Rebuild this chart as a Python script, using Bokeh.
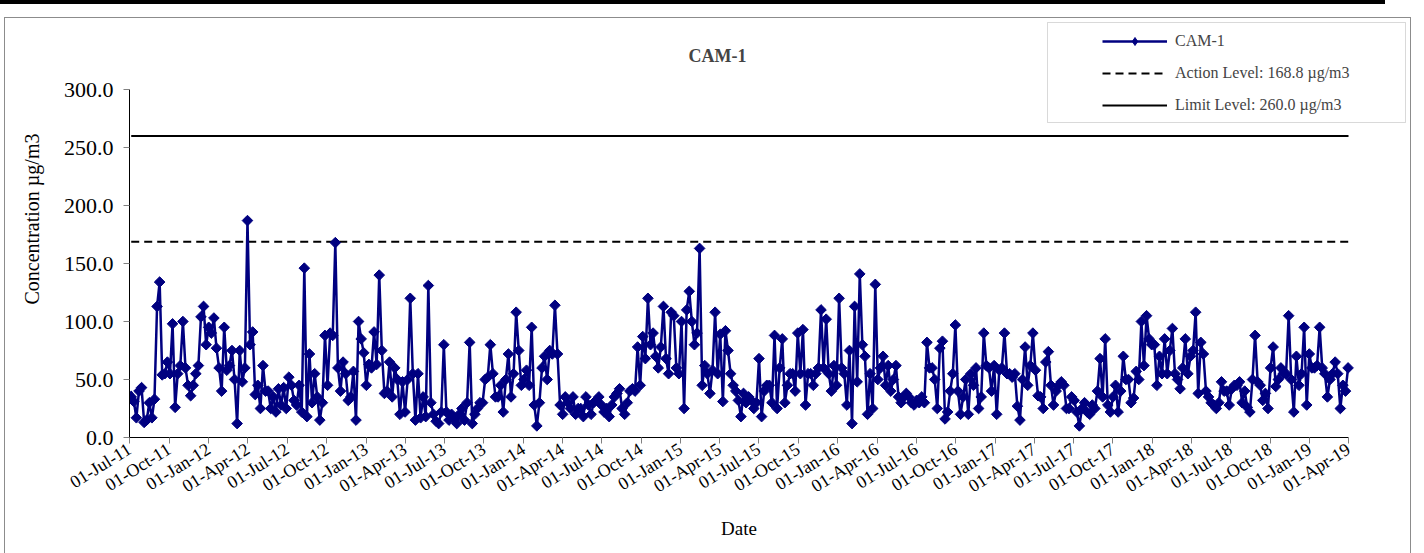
import math
import pandas as pd
from bokeh.plotting import figure
from bokeh.models import (ColumnDataSource, Range1d, FixedTicker, NumeralTickFormatter,
                          DatetimeTickFormatter, Legend, LegendItem, BoxAnnotation, Label,
                          CDSView, IndexFilter)
from bokeh.embed import file_html
from bokeh.resources import INLINE

# ---------------- data ----------------
series_name = "CAM-1"
start_date = "2011-07-05"
step_days = 6
cam1_values = [
    35, 31, 17, 40, 43, 13, 15, 30, 17, 33,
    113, 134, 54, 55, 65, 55, 98, 26, 55, 62,
    100, 60, 45, 36, 45, 55, 62, 104, 113, 80,
    95, 90, 103, 77, 60, 40, 95, 58, 62, 75,
    50, 12, 75, 48, 60, 187, 80, 91, 37, 45,
    25, 62, 40,
    40, 25, 35, 22, 42, 28, 43, 25, 52, 45,
    32, 28, 45, 22, 146, 18, 72, 30, 55, 35,
    15, 30, 88, 45, 90, 88, 168, 60, 40, 65,
    55, 32, 35, 57, 15, 100, 85, 73, 45, 63,
    60, 91, 63, 140, 75, 38, 40, 65, 35, 60,
    50, 20,
    48, 22, 50, 120, 55, 15, 55, 17, 35, 18,
    131, 30, 20, 14, 12, 22, 80, 22, 15, 20,
    16, 12, 20, 25, 15, 30, 82, 12, 20, 25,
    30, 30, 50, 52, 80, 55, 35, 35, 45, 22,
    50, 72, 35, 55, 108, 75, 45, 50, 58, 45,
    95, 28, 10, 30, 60, 70,
    50, 75, 72, 114, 72, 28, 20, 35, 30, 25,
    35, 20, 25, 25, 18, 35, 28, 20, 30, 32,
    35, 28, 22, 25, 18, 28, 35, 38, 42, 25,
    20, 30, 40, 42, 40, 78, 45, 87, 68, 120,
    80, 90, 70, 60, 78, 113, 68, 55, 108, 105,
    60, 55, 100, 25, 110,
    126, 100, 80, 90, 163, 45, 62, 55, 38, 58,
    108, 55, 89, 31, 92, 75, 55, 45, 40, 32,
    18, 38, 30, 35, 32, 25, 30, 68, 18, 40,
    45, 45, 30, 88, 25, 60, 85, 30, 45, 55,
    55, 40, 90, 55, 93, 28, 55, 55, 45, 55,
    60, 110, 60,
    102, 55, 40, 62, 45, 120, 60, 55, 28, 75,
    12, 113, 48, 141, 80, 70, 20, 55, 25, 132,
    50, 60, 70, 45, 62, 40, 50, 62, 35, 30,
    35, 38, 35, 30, 28, 32, 30, 35, 30, 82,
    60, 60, 50, 25, 77, 83, 16, 22, 40, 55,
    97, 40, 20, 35, 50,
    20, 55, 45, 60, 25, 35, 90, 62, 60, 40,
    62, 20, 58, 60, 90, 55, 55, 52, 55, 27,
    15, 50, 78, 45, 62, 90, 58, 36, 35, 25,
    65, 74, 45, 28, 40, 45, 48, 45, 25, 25,
    35, 32, 22, 10, 25, 30, 22, 20, 28, 25,
    40, 68, 35, 85,
    28, 22, 35, 45, 22, 40, 70, 50, 50, 30,
    34, 57, 50, 100, 62, 105, 85, 80, 80, 45,
    70, 55, 85, 55, 75, 94, 55, 50, 42, 60,
    85, 55, 70, 75, 108, 38, 82, 72, 40, 35,
    30, 28, 25, 30, 48, 40, 40, 28, 42, 45,
    45, 48, 30,
    40, 26, 22, 50, 88, 48, 45, 32, 38, 25,
    60, 78, 44, 50, 60, 55, 55, 105, 50, 22,
    70, 45, 55, 95, 28, 72, 60, 60, 62, 95,
    60, 55, 35, 50, 55, 65, 55, 25, 45, 40,
    60,
]
action_level = 168.8
limit_level = 260.0
x_tick_labels = [
    "01-Jul-11", "01-Oct-11", "01-Jan-12", "01-Apr-12", "01-Jul-12", "01-Oct-12",
    "01-Jan-13", "01-Apr-13", "01-Jul-13", "01-Oct-13", "01-Jan-14", "01-Apr-14",
    "01-Jul-14", "01-Oct-14", "01-Jan-15", "01-Apr-15", "01-Jul-15", "01-Oct-15",
    "01-Jan-16", "01-Apr-16", "01-Jul-16", "01-Oct-16", "01-Jan-17", "01-Apr-17",
    "01-Jul-17", "01-Oct-17", "01-Jan-18", "01-Apr-18", "01-Jul-18", "01-Oct-18",
    "01-Jan-19", "01-Apr-19",
]
y_ticks = [0, 50, 100, 150, 200, 250, 300]
title_text = "CAM-1"
y_label = "Concentration µg/m3"
x_label = "Date"

# ---------------- build ----------------
dates = pd.date_range(start=start_date, periods=len(cam1_values), freq=f"{step_days}D")
tick_dates = pd.to_datetime(x_tick_labels, format="%d-%b-%y")


def ms(ts):
    return ts.value / 1e6


W, H = 1424, 553
FL, FB = 129, 437          # frame left / bottom on canvas
AX_RIGHT, AX_TOP = 1348, 89  # where the axes end on canvas

xs, xe = ms(tick_dates[0]), ms(tick_dates[-1])
x_end = xs + (xe - xs) * (W - FL) / (AX_RIGHT - FL)
ys, ye = y_ticks[0], y_ticks[-1]
y_end = ys + (ye - ys) * FB / (FB - AX_TOP)

src = ColumnDataSource(dict(date=dates, value=cam1_values))
FONT = "Liberation Serif"
NAVY = "#000080"

p = figure(width=W, height=H, x_axis_type="datetime", output_backend="svg",
           toolbar_location=None, title=None,
           x_range=Range1d(xs, x_end), y_range=Range1d(ys, y_end),
           min_border_left=FL, min_border_right=0, min_border_top=0,
           min_border_bottom=H - FB)
p.background_fill_color = None
p.border_fill_color = None
p.outline_line_color = None
p.xgrid.visible = False
p.ygrid.visible = False
p.styles = {
    "background-color": "white",
    "background-image": ("linear-gradient(#000,#000), linear-gradient(#8c8c8c,#8c8c8c), "
                         "linear-gradient(#8c8c8c,#8c8c8c), linear-gradient(#8c8c8c,#8c8c8c)"),
    "background-position": "0px 0px, 4px 17px, 4px 17px, 1410px 17px",
    "background-size": "1385px 4px, 1407px 1px, 1px 600px, 1px 600px",
    "background-repeat": "no-repeat",
}

x0 = ms(dates[0])
action_r = p.line([x0, xe], [action_level, action_level], line_color="black",
                  line_width=2, line_dash="8 5")
limit_r = p.line([x0, xe], [limit_level, limit_level], line_color="black", line_width=2)
line_r = p.line("date", "value", source=src, line_color=NAVY, line_width=2.5)
scat_r = p.scatter("date", "value", source=src, marker="square", size=7.5,
                   angle=math.pi / 4, fill_color=NAVY, line_color=NAVY)
# diamond swatch for the legend entry, drawn on the series' own first point only
legend_marker = p.scatter("date", "value", source=src,
                          view=CDSView(filter=IndexFilter(indices=[0])),
                          marker="diamond", size=12, fill_color=NAVY, line_color=NAVY)

# axes
for ax in (p.xaxis[0], p.yaxis[0]):
    ax.axis_line_color = "black"
    ax.axis_line_width = 1
    ax.major_tick_line_color = "#808080"
    ax.major_tick_in = 0
    ax.major_tick_out = 6
    ax.minor_tick_line_color = None
    ax.major_label_text_font = FONT
    ax.major_label_text_color = "black"
    ax.axis_label_text_font = FONT
    ax.axis_label_text_font_style = "normal"
    ax.axis_label_text_color = "black"

p.xaxis.bounds = (xs, xe)
p.xaxis.ticker = FixedTicker(ticks=[ms(t) for t in tick_dates])
fmt = "%d-%b-%y"
p.xaxis.formatter = DatetimeTickFormatter(days=fmt, months=fmt, years=fmt)
p.xaxis.major_label_orientation = math.radians(32)
p.xaxis.major_label_text_font_size = "18px"
p.xaxis.major_label_standoff = 4
# the axis label is centred on the whole (extended) frame; trailing no-break
# spaces move the visible word back over the middle of the drawn axis
p.xaxis.axis_label = x_label + "\u00a0" * 16
p.xaxis.axis_label_text_font_size = "19px"
p.xaxis.axis_label_standoff = 10

p.yaxis.bounds = (ys, ye)
p.yaxis.ticker = FixedTicker(ticks=y_ticks)
p.yaxis.formatter = NumeralTickFormatter(format="0.0")
p.yaxis.major_label_text_font_size = "22px"
p.yaxis.major_label_standoff = 10
p.yaxis.axis_label = y_label
p.yaxis.axis_label_text_font_size = "20px"
p.yaxis.axis_label_standoff = 18


def bx(cl, cr, ct, cb, **kw):
    return BoxAnnotation(left=cl - FL, right=cr - FL, top=FB - ct, bottom=FB - cb,
                         left_units="screen", right_units="screen",
                         top_units="screen", bottom_units="screen", **kw)


# legend box
p.add_layout(bx(1047, 1405, 22, 122, fill_color="white", fill_alpha=1,
                line_color="#808080", line_width=1))

p.add_layout(Label(x=717 - FL, y=FB - 55, x_units="screen", y_units="screen",
                   text=title_text, text_font=FONT, text_font_style="bold",
                   text_font_size="18px", text_align="center", text_baseline="middle"))

legend = Legend(items=[
    LegendItem(label=series_name, renderers=[line_r, legend_marker]),
    LegendItem(label=f"Action Level: {action_level:.1f} µg/m3", renderers=[action_r]),
    LegendItem(label=f"Limit Level: {limit_level:.1f} µg/m3", renderers=[limit_r]),
], location=(1102 - FL, FB - 115), orientation="vertical", padding=0, margin=0,
    spacing=12, glyph_width=65, glyph_height=20, label_height=20, label_standoff=8,
    label_text_font=FONT, label_text_font_size="16px", border_line_color=None,
    background_fill_alpha=0)
p.add_layout(legend)

open("out.html", "w").write(file_html(p, INLINE))
